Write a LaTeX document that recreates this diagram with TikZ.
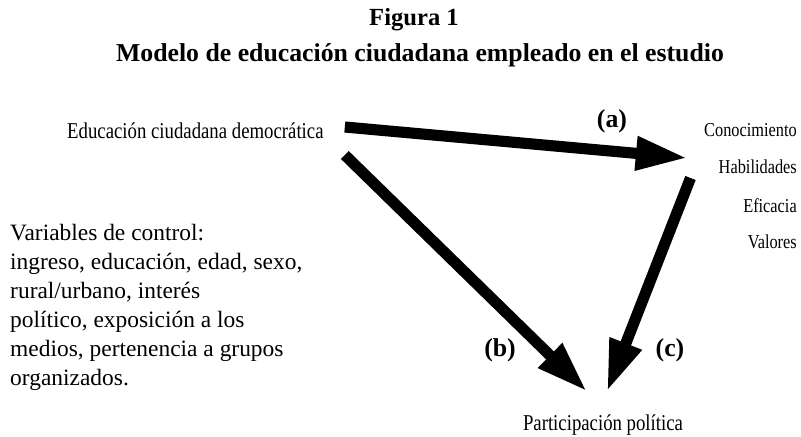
\documentclass[tikz,border=0pt]{standalone}
\usepackage{fontspec}
\setmainfont{Liberation Serif}
\newfontfamily\narrowfont{Liberation Serif}[FakeStretch=0.83]
\usepackage{tikz}
\usetikzlibrary{arrows.meta}

\begin{document}
\begin{tikzpicture}[x=0.03cm, y=-0.03cm,
	txt/.style={inner sep=0pt, font=\narrowfont\fontsize{19.3}{22}\selectfont},
	res/.style={inner sep=0pt, anchor=east, font=\narrowfont\fontsize{16.8}{20}\selectfont},
	lbl/.style={inner sep=0pt, font=\fontsize{22}{26}\selectfont\bfseries},
	bigarrow/.style={line width=9.5pt, -{Triangle[length=1.55cm, width=0.95cm]}}]

\useasboundingbox (0,0) rectangle (801,436);

\node[inner sep=0pt, font=\fontsize{21}{25}\selectfont\bfseries] (fig) at (414,20) {Figura 1};
\node[inner sep=0pt, font=\fontsize{22}{26}\selectfont\bfseries] (tit) at (420,55) {Modelo de educación ciudadana empleado en el estudio};

\node[txt, anchor=west] (edu) at (67,131) {Educación ciudadana democrática};

\node[res] (con) at (797,130) {Conocimiento};
\node[res] (hab) at (797,167) {Habilidades};
\node[res] (efi) at (797,206) {Eficacia};
\node[res] (val) at (797,242) {Valores};

\node[txt] (part) at (603,425) {Participación política};

\node[inner sep=0pt, anchor=north west, align=left, font=\fontsize{20}{24.7}\selectfont] (ctrl) at (10,224) {Variables de control:\\
ingreso, educación, edad, sexo,\\
rural/urbano, interés\\
político, exposición a los\\
medios, pertenencia a grupos\\
organizados.};

\node[lbl] (la) at (612,121) {(a)};
\node[lbl] (lb) at (500,350) {(b)};
\node[lbl] (lc) at (670,350) {(c)};

\draw[bigarrow] ([shift={(21,-4)}]edu.east) -- ([shift={(-31,-9)}]hab.west);
\draw[bigarrow] ([shift={(21,24)}]edu.east) -- ([shift={(-16,-23)}]part.north);
\draw[bigarrow] ([shift={(-28,11)}]hab.west) -- ([shift={(4,-23)}]part.north);

\end{tikzpicture}
\end{document}
